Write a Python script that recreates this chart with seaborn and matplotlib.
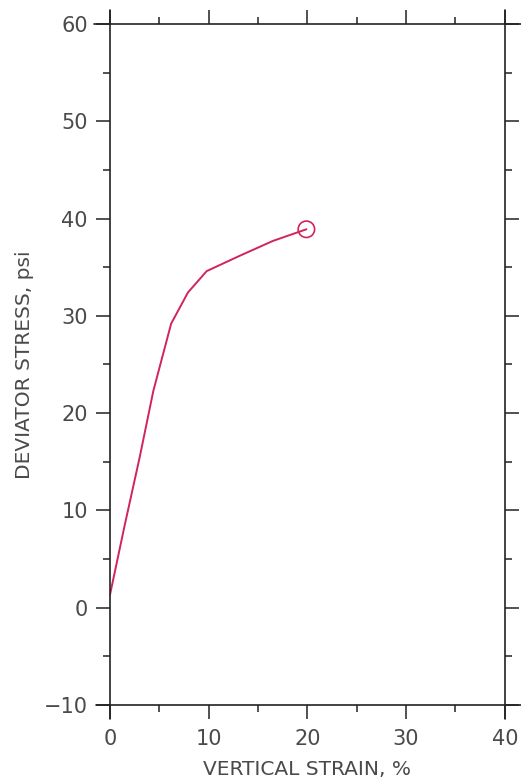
import matplotlib
matplotlib.use("Agg")
import matplotlib.pyplot as plt
from matplotlib.ticker import MultipleLocator
import seaborn as sns
import pandas as pd

strain = [0.0, 1.5, 3.0, 4.4, 6.2, 7.9, 9.8, 13.2, 16.5, 19.9]
stress = [1.3, 8.5, 15.4, 22.3, 29.2, 32.4, 34.6, 36.2, 37.7, 38.9]
end_strain = [19.9]
end_stress = [38.9]

x_ticks = [0, 10, 20, 30, 40]
y_ticks = [-10, 0, 10, 20, 30, 40, 50, 60]

sns.set_theme(style="white")
plt.rcParams['font.family'] = ['DejaVu Sans']

df = pd.DataFrame({"strain": strain, "stress": stress})
df_end = pd.DataFrame({"strain": end_strain, "stress": end_stress})

fig = plt.figure(figsize=(5.21, 7.8), dpi=100)
ax = fig.add_axes([0.211, 0.0962, 0.758, 0.873])

line_color = "#d0245a"
sns.lineplot(data=df, x="strain", y="stress", ax=ax, color=line_color,
             linewidth=1.4, sort=False)
sns.scatterplot(data=df_end, x="strain", y="stress", ax=ax, marker="o",
                s=140, facecolor="none", edgecolor=line_color, linewidth=1.2)

ax.set_xlim(0, 40)
ax.set_ylim(-10, 60)
ax.set_xticks(x_ticks)
ax.set_yticks(y_ticks)
ax.set_xticklabels([str(v) for v in x_ticks])
ax.set_yticklabels([("\u221210" if v < 0 else str(v)) for v in y_ticks])
ax.xaxis.set_minor_locator(MultipleLocator(5))
ax.yaxis.set_minor_locator(MultipleLocator(5))

txt = "#4a4a4a"
ax.tick_params(which="major", direction="out", length=10, width=1.1,
               color="#222222", labelsize=15, labelcolor=txt,
               top=True, right=True, bottom=True, left=True,
               labeltop=False, labelright=False)
ax.tick_params(axis="x", which="major", pad=7)
ax.tick_params(axis="y", which="major", pad=6)
ax.tick_params(which="minor", direction="out", length=5, width=1.1,
               color="#222222", top=True, right=True, bottom=True, left=True)

for s in ax.spines.values():
    s.set_visible(False)

# extended frame lines (plotter style)
frame_kw = dict(transform=ax.transAxes, clip_on=False, color="#222222", linewidth=1.2)
ax.plot([-0.04, 1.04], [1, 1], **frame_kw)
ax.plot([-0.035, 1.04], [0, 0], **frame_kw)
ax.plot([0, 0], [-0.02, 1.02], **frame_kw)
ax.plot([1, 1], [-0.02, 1.02], **frame_kw)

ax.set_xlabel("VERTICAL STRAIN, %", fontsize=14.5, color=txt, labelpad=8)
ax.set_ylabel("DEVIATOR STRESS, psi", fontsize=14.5, color=txt, labelpad=7)
ax.grid(False)

fig.savefig("out.png", dpi=100)
